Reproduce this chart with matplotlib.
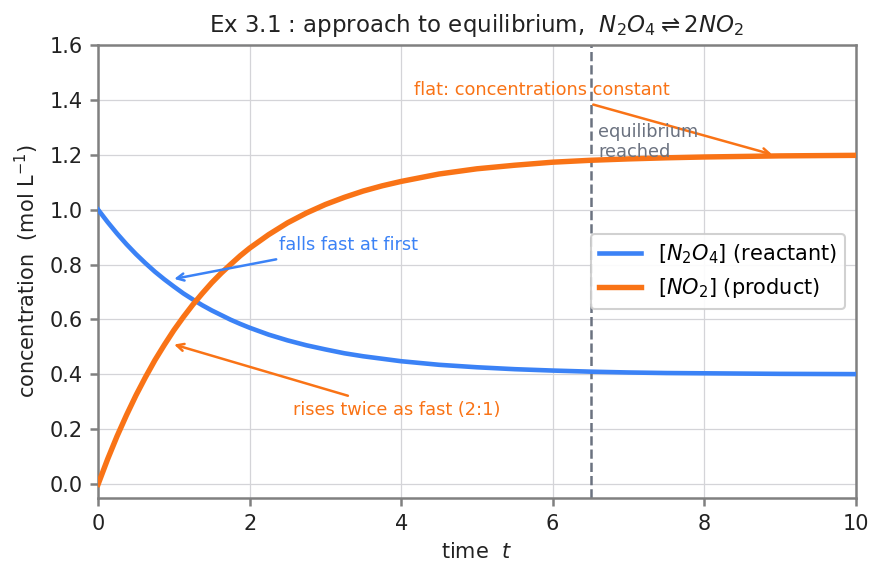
import numpy as np
import matplotlib.pyplot as plt

# values
t = [0, 0.125, 0.25, 0.375, 0.5, 0.625, 0.75, 0.875, 1.0, 1.125, 1.25, 1.375,
     1.5, 1.625, 1.75, 1.875, 2.0, 2.25, 2.5, 2.75, 3.0, 3.25, 3.5, 3.75, 4.0,
     4.5, 5.0, 5.5, 6.0, 6.5, 7.0, 7.5, 8.0, 9.0, 10.0]
n2o4 = [1.000, 0.955, 0.913, 0.874, 0.838, 0.805, 0.774, 0.746, 0.720, 0.695,
        0.673, 0.652, 0.633, 0.616, 0.599, 0.584, 0.570, 0.545, 0.524, 0.506,
        0.491, 0.477, 0.466, 0.457, 0.448, 0.435, 0.426, 0.419, 0.414, 0.410,
        0.407, 0.405, 0.404, 0.402, 0.401]
no2 = [0.000, 0.091, 0.175, 0.252, 0.324, 0.390, 0.452, 0.508, 0.561, 0.609,
       0.654, 0.695, 0.734, 0.769, 0.801, 0.832, 0.860, 0.909, 0.952, 0.988,
       1.019, 1.045, 1.068, 1.087, 1.103, 1.130, 1.149, 1.162, 1.173, 1.180,
       1.185, 1.189, 1.192, 1.196, 1.198]
t_eq = 6.5

blue = '#3b82f6'
orange = '#f97316'
grey = '#6b7280'

fig = plt.figure(figsize=(884 / 150, 573 / 150), dpi=150)
ax = fig.add_axes([0.111, 0.131, 0.857, 0.7905])

ax.plot(t, n2o4, color=blue, lw=2.2, label='$[N_2O_4]$ (reactant)', zorder=3)
ax.plot(t, no2, color=orange, lw=2.6, label='$[NO_2]$ (product)', zorder=3)
ax.axvline(t_eq, color=grey, ls='--', lw=1.2, zorder=2)

ax.annotate('falls fast at first', xy=(0.95, 0.745), xytext=(3.31, 0.87),
            ha='center', va='center', color=blue, fontsize=8.5,
            arrowprops=dict(arrowstyle='->', color=blue, lw=1.2))
ax.annotate('rises twice as fast (2:1)', xy=(0.95, 0.513), xytext=(3.94, 0.27),
            ha='center', va='center', color=orange, fontsize=8.5,
            arrowprops=dict(arrowstyle='->', color=orange, lw=1.2))
ax.annotate('flat: concentrations constant', xy=(8.95, 1.197), xytext=(5.86, 1.435),
            ha='center', va='center', color=orange, fontsize=8.5,
            arrowprops=dict(arrowstyle='->', color=orange, lw=1.2))
ax.text(6.6, 1.245, 'equilibrium\nreached', color=grey, fontsize=8.5,
        ha='left', va='center', linespacing=1.15)

ax.set_xlim(0, 10)
ax.set_ylim(-0.05, 1.6)
ax.set_yticks(np.arange(0, 1.61, 0.2))
ax.grid(True, color='#d4d4d8', lw=0.6, zorder=0)
for s in ax.spines.values():
    s.set_color('#808080')
    s.set_linewidth(1.2)
ax.tick_params(colors='#808080', labelcolor='#222222', labelsize=10, length=4, width=1.2)

ax.set_xlabel('time  $t$', fontsize=10, color='#222222')
ax.set_ylabel('concentration  (mol L$^{-1}$)', fontsize=10, color='#222222')
ax.set_title(r'Ex 3.1 : approach to equilibrium,  $N_2O_4 \rightleftharpoons 2NO_2$',
             fontsize=11, color='#222222')
ax.legend(loc='center right', fontsize=10, framealpha=0.9, edgecolor='#cccccc')

plt.savefig('out.png', dpi=150)
